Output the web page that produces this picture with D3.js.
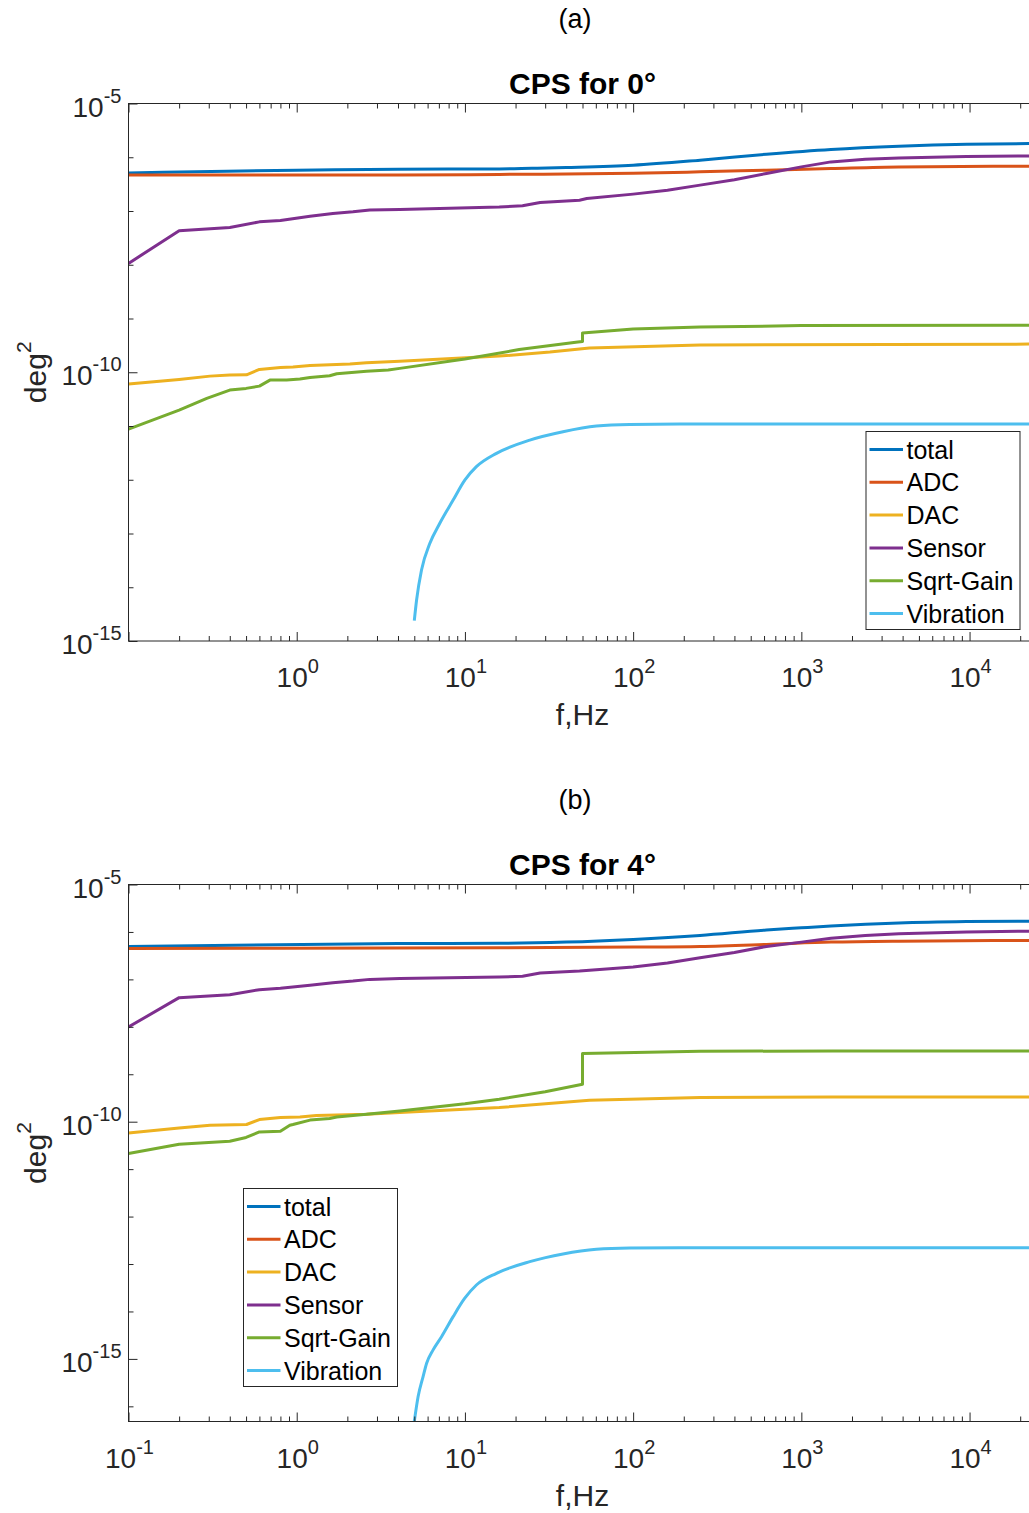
<!DOCTYPE html>
<html><head><meta charset="utf-8">
<script src="https://cdn.jsdelivr.net/npm/d3@7"></script>
<style>
body{margin:0;background:#fff}
svg{display:block}
text{font-family:"Liberation Sans",Arial,Helvetica,sans-serif}
</style>
</head><body>
<script>
// ---------- DATA ----------
const seriesNames = ["total","ADC","DAC","Sensor","Sqrt-Gain","Vibration"];
const colors = ["#0072BD","#D95319","#EDB120","#7E2F8E","#77AC30","#4DBEEE"];

// Panel (a): CPS for 0°
const fTotalA = [0.1,4,16,25,40,100,250,620,1500,3800,9600,25000];
const vTotalA = [5.12e-7,6.0e-7,6.05e-7,6.24e-7,6.46e-7,7.11e-7,8.83e-7,1.14e-6,1.40e-6,1.61e-6,1.75e-6,1.80e-6];
const fAdcA = [0.1,4,16,100,250,620,1500,3800,25000];
const vAdcA = [4.65e-7,4.65e-7,4.79e-7,5.04e-7,5.35e-7,5.75e-7,6.18e-7,6.62e-7,6.82e-7];
const fDacA = [0.1,0.2,0.305,0.4,0.503,0.6,0.8,0.95,1.2,2.07,2.6,4.1,16,32,55,250,25000];
const vDacA = [6.03e-11,7.36e-11,8.47e-11,8.85e-11,8.97e-11,1.13e-10,1.23e-10,1.25e-10,1.34e-10,1.42e-10,1.50e-10,1.61e-10,2.0e-10,2.37e-10,2.84e-10,3.23e-10,3.34e-10];
const fSensorA = [0.1,0.2,0.4,0.6,0.8,1.2,1.64,2.16,2.72,4.1,16,22,28,48,53,100,160,250,400,620,1000,1500,2400,3800,9600,25000];
const vSensorA = [1.06e-8,4.28e-8,4.94e-8,6.28e-8,6.67e-8,8.02e-8,8.99e-8,9.64e-8,1.04e-7,1.07e-7,1.19e-7,1.25e-7,1.44e-7,1.59e-7,1.71e-7,2.06e-7,2.44e-7,3.03e-7,3.83e-7,4.99e-7,6.62e-7,8.20e-7,9.20e-7,9.73e-7,1.03e-6,1.06e-6];
const fGainA = [0.1,0.2,0.292,0.4,0.5,0.6,0.693,0.871,1.045,1.2,1.57,1.73,2.6,3.5,4.1,10,21,46.9,50,50,100,250,1000,25000];
const vGainA = [8.77e-12,1.98e-11,3.27e-11,4.66e-11,5.01e-11,5.52e-11,7.14e-11,7.14e-11,7.46e-11,8.02e-11,8.59e-11,9.36e-11,1.04e-10,1.10e-10,1.18e-10,1.76e-10,2.64e-10,3.64e-10,3.72e-10,5.35e-10,6.35e-10,6.92e-10,7.38e-10,7.53e-10];
const fVibA = [5.0,5.16,5.52,6.19,7.09,8.51,9.98,11.7,15.4,24.3,38.3,60.5,95.5,189,25000];
const vVibA = [2.39e-15,5.79e-15,2.09e-14,6.56e-14,1.55e-13,4.19e-13,9.86e-13,1.75e-12,3.10e-12,5.47e-12,7.82e-12,9.98e-12,1.07e-11,1.09e-11,1.09e-11];

// Panel (b): CPS for 4°
const fTotalB = [0.1,4,16,40,100,250,620,1000,1500,3800,9600,25000];
const vTotalB = [4.95e-7,5.69e-7,5.75e-7,6.10e-7,6.95e-7,8.43e-7,1.10e-6,1.22e-6,1.33e-6,1.54e-6,1.65e-6,1.69e-6];
const fAdcB = [0.1,16,100,250,620,1500,3800,25000];
const vAdcB = [4.50e-7,4.65e-7,4.79e-7,4.95e-7,5.46e-7,6.10e-7,6.40e-7,6.62e-7];
const fDacB = [0.1,0.2,0.305,0.503,0.6,0.8,1.045,1.31,2.6,4.1,16,55,250,1535,25000];
const vDacB = [5.81e-11,7.40e-11,8.43e-11,8.73e-11,1.11e-10,1.22e-10,1.26e-10,1.35e-10,1.44e-10,1.56e-10,1.99e-10,2.84e-10,3.23e-10,3.33e-10,3.33e-10];
const fSensorB = [0.1,0.2,0.4,0.6,0.8,1.2,1.64,2.16,2.72,4.1,16,22,28,48,100,160,250,400,620,1000,1500,2400,3800,9600,25000];
const vSensorB = [9.91e-9,4.12e-8,4.76e-8,6.07e-8,6.47e-8,7.48e-8,8.53e-8,9.20e-8,1.0e-7,1.04e-7,1.12e-7,1.16e-7,1.36e-7,1.50e-7,1.82e-7,2.22e-7,2.86e-7,3.70e-7,4.95e-7,6.10e-7,7.40e-7,8.43e-7,9.16e-7,1.0e-6,1.04e-6];
const fGainB = [0.1,0.2,0.4,0.5,0.6,0.8,0.91,0.95,1.2,1.57,1.73,2.6,4.1,10,16,30,50,50,250,1535,25000];
const vGainB = [2.14e-11,3.36e-11,3.88e-11,4.65e-11,6.10e-11,6.31e-11,8.43e-11,8.73e-11,1.08e-10,1.17e-10,1.26e-10,1.44e-10,1.69e-10,2.38e-10,2.98e-10,4.27e-10,6.15e-10,2.73e-9,3.05e-9,3.10e-9,3.10e-9];
const fVibB = [5.0,5.27,5.64,5.92,6.47,7.26,8.51,9.98,11.7,15.4,24.3,38.3,60.5,95.5,189,25000];
const vVibB = [4.79e-17,1.61e-16,4.24e-16,8.11e-16,1.55e-15,2.94e-15,7.78e-15,1.90e-14,3.61e-14,6.37e-14,1.12e-13,1.63e-13,2.04e-13,2.17e-13,2.20e-13,2.20e-13];

// Axis limits and tick labels
const xLimits = [0.1, 25000];
const xTickExpA = [0,1,2,3,4];
const xTickExpB = [-1,0,1,2,3,4];
const yTickExp = [-5,-10,-15];
const yLimitsA = [1e-15, 1e-5];
const yLimitsB = [4.79e-17, 1e-5];

// ---------- DRAWING ----------
const W = 1029, H = 1513;
const AX = "#262626";
const svg = d3.select("body").append("svg").attr("width", W).attr("height", H);

const x = d3.scaleLog().domain(xLimits).range([128.5, 1036.5]);

function sup(textSel, base, exp, baseSize, supSize, dy) {
  textSel.append("tspan").attr("font-size", baseSize).text(base);
  textSel.append("tspan").attr("font-size", supSize).attr("dy", -dy).text(exp);
}

function drawPanel(p) {
  const top = p.top, bottom = p.bottom;
  const left = x.range()[0], right = x.range()[1];
  const y = d3.scaleLog().domain(p.yLim).range([bottom, top]);
  const g = svg.append("g");

  const clipId = "clip" + p.id;
  svg.append("clipPath").attr("id", clipId).append("rect")
    .attr("x", left).attr("y", top - 2).attr("width", right - left).attr("height", bottom - top + 2);

  // data lines
  const lines = g.append("g").attr("clip-path", `url(#${clipId})`);
  p.series.forEach((s, i) => {
    const line = d3.line().x(d => x(d[0])).y(d => y(d[1]))
      .curve(s.smooth ? d3.curveMonotoneX : d3.curveLinear);
    lines.append("path").datum(d3.zip(s.f, s.v)).attr("d", line)
      .attr("fill", "none").attr("stroke", colors[i]).attr("stroke-width", 3)
      .attr("stroke-linejoin", "round").attr("stroke-linecap", "butt");
  });

  // ticks
  const decadesX = d3.range(-1, 5);
  const xMajor = decadesX.map(e => Math.pow(10, e));
  const xMinor = [];
  decadesX.forEach(e => { for (let k = 2; k <= 9; k++) { const v = k * Math.pow(10, e); if (v < xLimits[1]) xMinor.push(v); } });
  const yDecades = d3.range(Math.ceil(Math.log10(p.yLim[0]) - 1e-9), -4);
  const yMajor = yTickExp.map(e => Math.pow(10, e));
  const yMinor = yDecades.filter(e => !yTickExp.includes(e)).map(e => Math.pow(10, e));

  function styleAxis(sel) {
    sel.select(".domain").remove();
    sel.selectAll("line").attr("stroke", AX);
    sel.selectAll("text").remove();
  }
  g.append("g").attr("transform", `translate(0,${bottom})`)
    .call(d3.axisBottom(x).tickValues(xMajor).tickSizeInner(-9).tickSizeOuter(0).tickFormat("")).call(styleAxis);
  g.append("g").attr("transform", `translate(0,${bottom})`)
    .call(d3.axisBottom(x).tickValues(xMinor).tickSizeInner(-5).tickSizeOuter(0).tickFormat("")).call(styleAxis);
  g.append("g").attr("transform", `translate(0,${top})`)
    .call(d3.axisTop(x).tickValues(xMajor).tickSizeInner(-9).tickSizeOuter(0).tickFormat("")).call(styleAxis);
  g.append("g").attr("transform", `translate(0,${top})`)
    .call(d3.axisTop(x).tickValues(xMinor).tickSizeInner(-5).tickSizeOuter(0).tickFormat("")).call(styleAxis);
  g.append("g").attr("transform", `translate(${left},0)`)
    .call(d3.axisLeft(y).tickValues(yMajor).tickSizeInner(-9).tickSizeOuter(0).tickFormat("")).call(styleAxis);
  g.append("g").attr("transform", `translate(${left},0)`)
    .call(d3.axisLeft(y).tickValues(yMinor).tickSizeInner(-5).tickSizeOuter(0).tickFormat("")).call(styleAxis);

  // box
  g.append("rect").attr("x", left).attr("y", top).attr("width", right - left).attr("height", bottom - top)
    .attr("fill", "none").attr("stroke", AX).attr("stroke-width", 1);

  // x tick labels
  p.xTickExp.forEach(e => {
    const t = g.append("text").attr("x", x(Math.pow(10, e)) + 1).attr("y", bottom + 46)
      .attr("text-anchor", "middle").attr("fill", AX);
    sup(t, "10", String(e), 28, 20, 14);
  });
  // y tick labels
  yTickExp.forEach(e => {
    const t = g.append("text").attr("x", left - 7).attr("y", y(Math.pow(10, e)) + 13)
      .attr("text-anchor", "end").attr("fill", AX);
    sup(t, "10", String(e), 28, 20, 14);
  });

  // x label
  g.append("text").attr("x", (left + right) / 2).attr("y", bottom + 84)
    .attr("text-anchor", "middle").attr("font-size", 30).attr("fill", AX).text("f,Hz");
  // y label
  const yl = g.append("text").attr("transform", `translate(46,${(top + bottom) / 2}) rotate(-90)`)
    .attr("text-anchor", "middle").attr("fill", AX);
  sup(yl, "deg", "2", 30, 21, 15);

  // title
  g.append("text").attr("x", (left + right) / 2).attr("y", top - 10)
    .attr("text-anchor", "middle").attr("font-size", 30).attr("font-weight", "bold").attr("fill", "#000")
    .text(p.title);
  // panel letter
  g.append("text").attr("x", 575).attr("y", p.letterY).attr("text-anchor", "middle")
    .attr("font-family", "'Liberation Serif','Times New Roman',serif").attr("font-size", 27).attr("fill", "#000")
    .text(p.letter);

  // legend
  const L = p.legend;
  const lg = g.append("g");
  lg.append("rect").attr("x", L.x).attr("y", L.y).attr("width", 154).attr("height", 198)
    .attr("fill", "#fff").attr("stroke", AX).attr("stroke-width", 1);
  seriesNames.forEach((n, i) => {
    const cy = L.y + 18 + i * 32.8;
    lg.append("line").attr("x1", L.x + 3.5).attr("x2", L.x + 37).attr("y1", cy).attr("y2", cy)
      .attr("stroke", colors[i]).attr("stroke-width", 3);
    lg.append("text").attr("x", L.x + 40.5).attr("y", cy + 9).attr("font-size", 25).attr("fill", "#000").text(n);
  });
}

drawPanel({
  id: "a", top: 103.5, bottom: 641, yLim: yLimitsA, title: "CPS for 0°", letter: "(a)", letterY: 28,
  xTickExp: xTickExpA, legend: {x: 866, y: 431.5},
  series: [
    {f: fTotalA, v: vTotalA, smooth: true},
    {f: fAdcA, v: vAdcA, smooth: true},
    {f: fDacA, v: vDacA, smooth: false},
    {f: fSensorA, v: vSensorA, smooth: false},
    {f: fGainA, v: vGainA, smooth: false},
    {f: fVibA, v: vVibA, smooth: true}
  ]
});
drawPanel({
  id: "b", top: 884.5, bottom: 1421.5, yLim: yLimitsB, title: "CPS for 4°", letter: "(b)", letterY: 809,
  xTickExp: xTickExpB, legend: {x: 243.5, y: 1188.5},
  series: [
    {f: fTotalB, v: vTotalB, smooth: true},
    {f: fAdcB, v: vAdcB, smooth: true},
    {f: fDacB, v: vDacB, smooth: false},
    {f: fSensorB, v: vSensorB, smooth: false},
    {f: fGainB, v: vGainB, smooth: false},
    {f: fVibB, v: vVibB, smooth: true}
  ]
});
</script>
</body></html>
